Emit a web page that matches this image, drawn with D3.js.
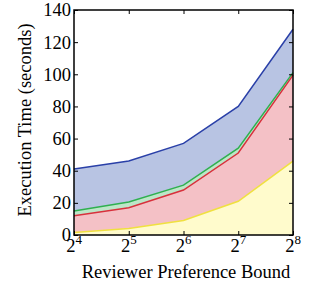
<!DOCTYPE html>
<html>
<head>
<meta charset="utf-8">
<script src="https://cdn.jsdelivr.net/npm/d3@7"></script>
<style>
  body { margin: 0; background: #fff; }
  svg text { font-family: "Liberation Serif", "DejaVu Serif", Times, serif; fill: #000; }
</style>
</head>
<body>
<div id="chart"></div>
<script>
// exponents of 2 on x axis
const exponents = [4, 5, 6, 7, 8];
// cumulative top of each layer (seconds)
const yellowTop = [1.5, 4, 9, 21, 46];
const redTop = [12, 17, 28, 51, 99.5];
const greenTop = [15, 20.5, 31, 54, 101];
const blueTop = [41, 46, 57, 80, 128];
const yTicks = [0, 20, 40, 60, 80, 100, 120, 140];

const width = 314, height = 284;
const margin = { left: 74, right: 21, top: 10, bottom: 49 };
const serif = "'Liberation Serif', 'DejaVu Serif', Times, serif";
const fontSize = 18.5;

const x = d3.scaleLinear().domain([4, 8]).range([margin.left, width - margin.right]);
const y = d3.scaleLinear().domain([0, 140]).range([height - margin.bottom, margin.top]);

const svg = d3.select("#chart").append("svg")
  .attr("width", width).attr("height", height)
  .attr("font-family", serif);

const layers = [
  { top: blueTop, bottom: greenTop, fill: "#b8c4e3", stroke: "#2a40a8" },
  { top: greenTop, bottom: redTop, fill: "#bde6c8", stroke: "#2fb050" },
  { top: redTop, bottom: yellowTop, fill: "#f4c1c6", stroke: "#d8303c" },
  { top: yellowTop, bottom: exponents.map(() => 0), fill: "#fffbcc", stroke: "#f0e040" }
];

const area = d3.area()
  .x(d => x(d.e))
  .y0(d => y(d.lo))
  .y1(d => y(d.hi));

const line = d3.line()
  .x(d => x(d.e))
  .y(d => y(d.hi));

layers.forEach(l => {
  const pts = exponents.map((e, i) => ({ e, lo: l.bottom[i], hi: l.top[i] }));
  svg.append("path").attr("d", area(pts)).attr("fill", l.fill);
});
layers.forEach(l => {
  const pts = exponents.map((e, i) => ({ e, lo: l.bottom[i], hi: l.top[i] }));
  svg.append("path").attr("d", line(pts))
    .attr("fill", "none").attr("stroke", l.stroke).attr("stroke-width", 1.5);
});

// frame
svg.append("rect")
  .attr("x", margin.left).attr("y", margin.top)
  .attr("width", width - margin.left - margin.right)
  .attr("height", height - margin.top - margin.bottom)
  .attr("fill", "none").attr("stroke", "#000").attr("stroke-width", 1.5);

// axes with inward ticks
const tickLen = 4;
const bottomAxis = svg.append("g")
  .attr("transform", `translate(0,${height - margin.bottom})`)
  .call(d3.axisBottom(x).tickValues(exponents).tickSize(-tickLen).tickFormat(""));
const topAxis = svg.append("g")
  .attr("transform", `translate(0,${margin.top})`)
  .call(d3.axisTop(x).tickValues(exponents).tickSize(-tickLen).tickFormat(""));
const leftAxis = svg.append("g")
  .attr("transform", `translate(${margin.left},0)`)
  .call(d3.axisLeft(y).tickValues(yTicks).tickSize(-tickLen).tickPadding(4));
const rightAxis = svg.append("g")
  .attr("transform", `translate(${width - margin.right},0)`)
  .call(d3.axisRight(y).tickValues(yTicks).tickSize(-tickLen).tickFormat(""));

[bottomAxis, topAxis, leftAxis, rightAxis].forEach(a => {
  a.attr("font-family", serif);
  a.select(".domain").remove();
  a.selectAll(".tick line").attr("stroke", "#000").attr("stroke-width", 1);
});
leftAxis.selectAll(".tick text")
  .attr("font-size", fontSize).attr("x", -3).attr("fill", "#000");

// x tick labels as 2^n
exponents.forEach(e => {
  const t = svg.append("text")
    .attr("x", x(e)).attr("y", height - margin.bottom + 17)
    .attr("text-anchor", "middle").attr("font-size", fontSize);
  t.append("tspan").text("2");
  t.append("tspan").attr("dy", -8).attr("font-size", 13).text(e);
});

svg.append("text")
  .attr("x", 186)
  .attr("y", 278)
  .attr("text-anchor", "middle").attr("font-size", fontSize)
  .text("Reviewer Preference Bound");

svg.append("text")
  .attr("transform", "translate(31,120) rotate(-90)")
  .attr("text-anchor", "middle").attr("font-size", fontSize)
  .text("Execution Time (seconds)");
</script>
</body>
</html>
